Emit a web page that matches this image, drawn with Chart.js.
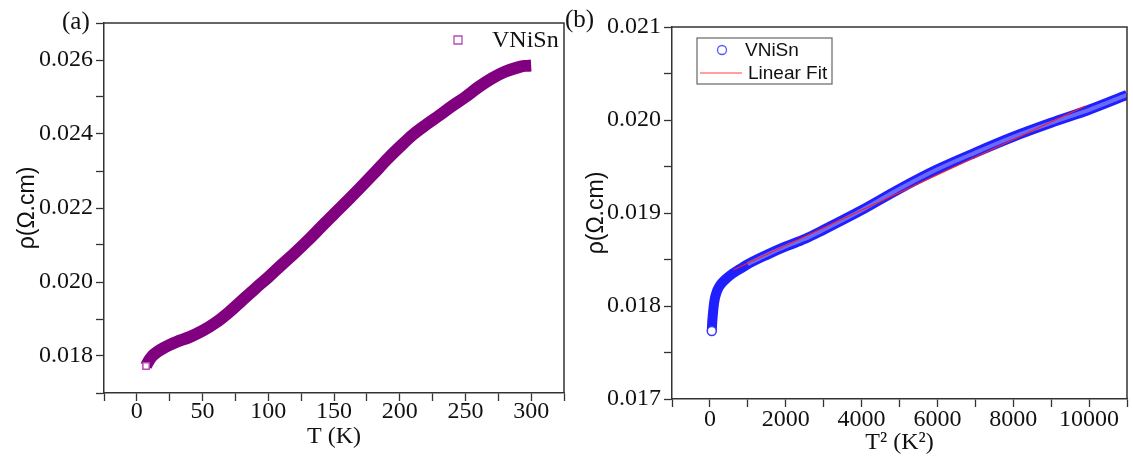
<!DOCTYPE html>
<html>
<head>
<meta charset="utf-8">
<script src="https://cdn.jsdelivr.net/npm/chart.js@4.4.1/dist/chart.umd.min.js"></script>
<style>
    body { margin: 0; background: #fff; width: 1133px; height: 466px; position: relative; overflow: hidden; }
    canvas { position: absolute; top: 0; }
    #chartA { left: 0; }
    #chartB { left: 575px; }
    .panel-label { position: absolute; font-family: 'Liberation Serif', serif; font-size: 25px; color: #111; line-height: 1; }
</style>
</head>
<body>
<canvas id="chartA" width="575" height="466"></canvas>
<canvas id="chartB" width="558" height="466"></canvas>
<div class="panel-label" style="left:62px; top:8px">(a)</div>
<div class="panel-label" style="left:565px; top:6px">(b)</div>
<script>
// (a) resistivity vs temperature
const tempK = [7, 8, 10, 12, 15, 20, 25, 30, 40, 50, 60, 70, 80, 90, 100, 110, 120, 130, 140, 150,
    160, 170, 180, 190, 200, 210, 220, 230, 240, 250, 260, 270, 280, 290, 295, 300];
const rhoA = [0.01773, 0.01780, 0.01792, 0.01801, 0.01810, 0.01821, 0.01830, 0.01838, 0.01851, 0.01868,
    0.01890, 0.01918, 0.01950, 0.01982, 0.02013, 0.02046, 0.02078, 0.02112, 0.02148, 0.02184,
    0.02219, 0.02255, 0.02292, 0.02330, 0.02365, 0.02398, 0.02425, 0.02450, 0.02476, 0.02500,
    0.02527, 0.02550, 0.02568, 0.02580, 0.02584, 0.02585];

// (b) resistivity vs T^2, with the linear fit
const tempSq = [49, 60, 80, 100, 130, 170, 220, 300, 420, 600, 800, 1000, 1500, 2000, 2500, 3000,
    4000, 5000, 6000, 7000, 8000, 9000, 10000, 11000];
const rhoB = [0.01773, 0.01782, 0.01792, 0.01800, 0.01808, 0.01814, 0.01819, 0.01824, 0.01829, 0.01835,
    0.01840, 0.01845, 0.01855, 0.01864, 0.01872, 0.01882, 0.01903, 0.01926, 0.01947, 0.01965,
    0.01982, 0.01997, 0.02011, 0.02027];
const fitX = [625, 9900];
const fitY = [0.01839, 0.02015];

// labelled ticks (the others are minor ticks)
const xLabelsA = [0, 50, 100, 150, 200, 250, 300];
const yLabelsA = [0.018, 0.020, 0.022, 0.024, 0.026];
const xLabelsB = [0, 2000, 4000, 6000, 8000, 10000];
const yLabelsB = [0.017, 0.018, 0.019, 0.020, 0.021];

const toXY = (xs, ys) => xs.map((x, i) => ({ x: x, y: ys[i] }));

function labelTicks(labels, digits) {
    return function (value) {
        const hit = labels.some(v => Math.abs(v - value) < 1e-9);
        return hit ? value.toFixed(digits) : '';
    };
}

const serifTick = { family: "'Liberation Serif', serif", size: 24 };
const serifTitle = { family: "'Liberation Serif', serif", size: 24 };
const sansTitle = { family: "'Liberation Sans', sans-serif", size: 23 };

function axis(min, max, step, labels, digits, tickPadding) {
    return {
        type: 'linear', min: min, max: max,
        ticks: {
            stepSize: step, autoSkip: false, maxRotation: 0, minRotation: 0,
            padding: tickPadding, color: '#111', font: serifTick,
            callback: labelTicks(labels, digits)
        },
        grid: { drawOnChartArea: false, tickLength: 8, tickColor: '#333', tickWidth: 1.3 },
        border: { color: '#333', width: 1.5 }
    };
}

// top and right frame lines + legend drawn inside the plot
const framePlugin = {
    id: 'frame',
    afterDraw(chart, args, opts) {
        const { ctx, chartArea: a } = chart;
        ctx.save();
        ctx.strokeStyle = '#333';
        ctx.lineWidth = 1.5;
        ctx.beginPath();
        ctx.moveTo(a.left, a.top);
        ctx.lineTo(a.right, a.top);
        ctx.lineTo(a.right, a.bottom);
        ctx.stroke();

        const lg = opts.legend;
        if (lg) {
            const x0 = a.left, y0 = a.top;
            if (lg.box) {
                ctx.strokeStyle = '#666';
                ctx.lineWidth = 1.2;
                ctx.strokeRect(x0 + lg.box[0], y0 + lg.box[1], lg.box[2], lg.box[3]);
            }
            ctx.font = lg.font;
            ctx.fillStyle = '#111';
            ctx.textBaseline = 'middle';
            lg.items.forEach(it => {
                ctx.strokeStyle = it.color;
                ctx.lineWidth = it.width;
                ctx.beginPath();
                if (it.kind === 'square') {
                    ctx.rect(x0 + it.mx - 4, y0 + it.y - 4, 8, 8);
                } else if (it.kind === 'circle') {
                    ctx.arc(x0 + it.mx, y0 + it.y, 4.5, 0, Math.PI * 2);
                } else {
                    ctx.moveTo(x0 + it.mx - 21, y0 + it.y);
                    ctx.lineTo(x0 + it.mx + 21, y0 + it.y);
                }
                ctx.stroke();
                ctx.fillText(it.text, x0 + it.tx, y0 + it.y + 1);
            });
        }
        ctx.restore();
    }
};

// (a)
const xA = axis(-25, 325, 25, xLabelsA, 0, -4);
xA.title = { display: true, text: 'T (K)', font: serifTitle, color: '#111', padding: 0 };
xA.afterFit = s => { s.height = 58; };
const yA = axis(0.017, 0.027, 0.001, yLabelsA, 3, 3);
yA.title = { display: true, text: 'ρ(Ω.cm)', font: sansTitle, color: '#111', padding: 0 };
yA.afterFit = s => { s.width = 90; };

new Chart(document.getElementById('chartA'), {
    type: 'scatter',
    data: {
        datasets: [{
            label: 'VNiSn',
            data: toXY(tempK, rhoA),
            showLine: true,
            cubicInterpolationMode: 'monotone',
            borderColor: '#800080',
            borderWidth: 12,
            borderCapStyle: 'butt',
            pointStyle: 'rect',
            pointRadius: ctx => ctx.dataIndex === 0 ? 4.5 : 0,
            pointBackgroundColor: '#fff',
            pointBorderColor: '#b64ab6',
            pointBorderWidth: 1.5
        }]
    },
    options: {
        responsive: false,
        animation: false,
        events: [],
        layout: { padding: { left: 14, top: 23, right: 11, bottom: 15 } },
        scales: { x: xA, y: yA },
        plugins: {
            legend: { display: false },
            tooltip: { enabled: false },
            frame: {
                legend: {
                    font: "24px 'Liberation Serif', serif",
                    items: [{ kind: 'square', text: 'VNiSn', color: '#b64ab6', width: 1.3, mx: 354, tx: 388, y: 17 }]
                }
            }
        }
    },
    plugins: [framePlugin]
});

// (b)
const xB = axis(-1000, 11000, 1000, xLabelsB, 0, -2);
xB.title = { display: true, text: 'T² (K²)', font: serifTitle, color: '#111', padding: 0 };
xB.afterFit = s => { s.height = 58; };
const yB = axis(0.017, 0.021, 0.0005, yLabelsB, 3, 3);
yB.title = { display: true, text: 'ρ(Ω.cm)', font: sansTitle, color: '#111', padding: 0 };
yB.afterFit = s => { s.width = 89; };

new Chart(document.getElementById('chartB'), {
    type: 'scatter',
    data: {
        datasets: [{
            label: 'Linear Fit',
            data: toXY(fitX, fitY),
            showLine: true,
            borderColor: '#ff2020',
            borderWidth: 1.2,
            pointRadius: 0
        }, {
            label: '',
            data: toXY(tempSq.slice(11), rhoB.slice(11)),
            showLine: true,
            cubicInterpolationMode: 'monotone',
            borderColor: '#6a6aff',
            borderWidth: 4,
            pointRadius: 0
        }, {
            label: 'VNiSn',
            data: toXY(tempSq, rhoB),
            showLine: true,
            cubicInterpolationMode: 'monotone',
            borderColor: '#2020ff',
            borderWidth: 10,
            borderCapStyle: 'butt',
            pointStyle: 'circle',
            pointRadius: ctx => ctx.dataIndex === 0 ? 4.5 : 0,
            pointBackgroundColor: '#fff',
            pointBorderColor: '#3a3aff',
            pointBorderWidth: 1.5
        }]
    },
    options: {
        responsive: false,
        animation: false,
        events: [],
        layout: { padding: { left: 8, top: 27, right: 1, bottom: 9 } },
        scales: { x: xB, y: yB },
        plugins: {
            legend: { display: false },
            tooltip: { enabled: false },
            frame: {
                legend: {
                    box: [25, 11, 135, 46],
                    font: "19px 'Liberation Sans', sans-serif",
                    items: [
                        { kind: 'circle', text: 'VNiSn', color: '#5555ff', width: 1.3, mx: 50, tx: 73, y: 23 },
                        { kind: 'line', text: 'Linear Fit', color: '#ff4040', width: 1.2, mx: 49, tx: 76, y: 46 }
                    ]
                }
            }
        }
    },
    plugins: [framePlugin]
});
</script>
</body>
</html>
